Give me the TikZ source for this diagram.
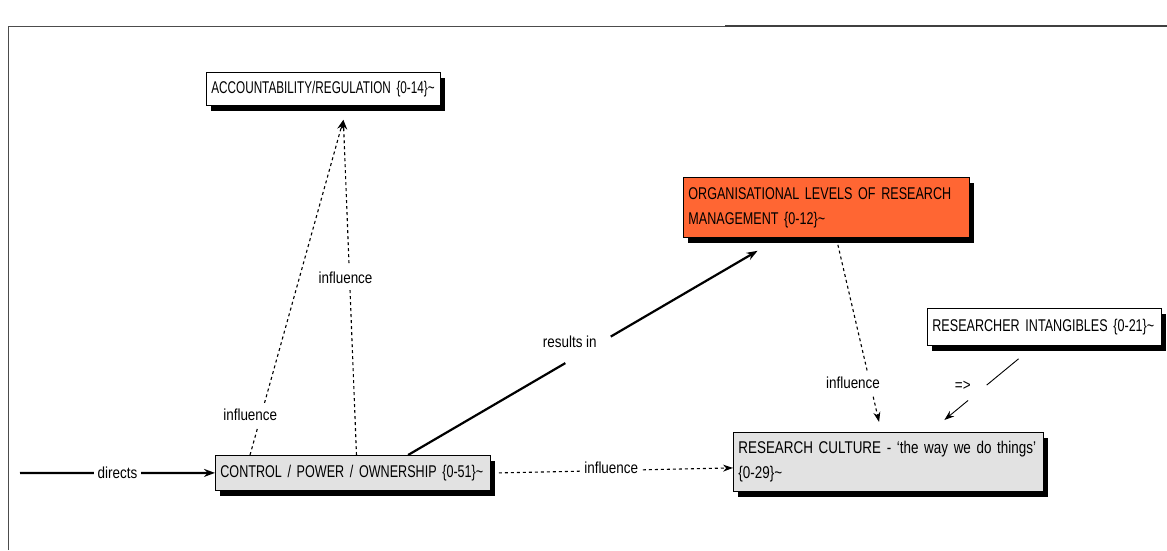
\documentclass[tikz,border=0pt]{standalone}
\usepackage{fontspec}
\setmainfont{Liberation Sans}[FakeStretch=0.79]
\newfontfamily\condfont{Liberation Sans}[FakeStretch=0.74]
\newfontfamily\tightfont{Liberation Sans}[FakeStretch=0.69]
\newfontfamily\labelfont{Liberation Sans}[FakeStretch=0.84]
\usetikzlibrary{arrows.meta,calc,shadows}
\definecolor{orgfill}{HTML}{FF6633}
\definecolor{boxgray}{HTML}{E2E2E2}
\begin{document}
\begin{tikzpicture}[x=1pt,y=-1pt,
  every node/.style={font=\fontsize{17pt}{25pt}\selectfont},
  box/.style={draw=black, line width=0.8pt, align=left, anchor=north west,
    inner xsep=5pt, inner ysep=2pt,
    drop shadow={shadow xshift=5pt, shadow yshift=-6pt, fill=black, opacity=1}},
  lbl/.style={fill=white, inner sep=2pt, font=\fontsize{16pt}{20pt}\labelfont},
  heavy/.style={line width=2.2pt, -{Stealth[length=11pt,width=8pt]}},
  thinline/.style={line width=0.9pt, -{Stealth[length=10pt,width=7pt]}},
  dashline/.style={line width=1.1pt, dash pattern=on 3pt off 3pt,
    -{Stealth[length=10pt,width=7pt]}}]
\useasboundingbox (0,0) rectangle (1167,550);

% page frame
\draw[black!70, line width=1pt] (8,550) -- (8,26) -- (725,26);
\draw[black!75, line width=2pt] (725,26) -- (1167,26);

% concept boxes
\node[box, fill=white, text width=224pt, minimum height=33pt] (acc) at (206,72)
  {\mbox{\tightfont ACCOUNTABILITY/REGULATION \{0-14\}\textasciitilde}};
\node[box, fill=boxgray, text width=265pt, minimum height=35pt] (ctrl) at (215,455)
  {\mbox{\condfont CONTROL / POWER / OWNERSHIP \{0-51\}\textasciitilde}};
\node[box, fill=orgfill, text width=276pt, minimum height=60pt] (org) at (683,177)
  {\mbox{\condfont ORGANISATIONAL LEVELS OF RESEARCH}\\\mbox{\condfont MANAGEMENT \{0-12\}\textasciitilde}};
\node[box, fill=boxgray, text width=300pt, minimum height=59pt] (rc) at (733,432)
  {\mbox{RESEARCH CULTURE - `the way we do things'}\\\{0-29\}\textasciitilde};
\node[box, fill=white, text width=224pt, minimum height=37pt] (ri) at (927,308)
  {\mbox{\condfont RESEARCHER INTANGIBLES \{0-21\}\textasciitilde}};

% connector end points on the boxes
\coordinate (d0) at (20,473);
\coordinate (sA1) at ($(ctrl.north west)!0.127!(ctrl.north east)$);
\coordinate (sA2) at ($(ctrl.north west)!0.513!(ctrl.north east)$);
\coordinate (eA) at ($(acc.south west)!0.585!(acc.south east)+(0,14)$);
\coordinate (sRes) at ($(ctrl.north west)!0.70!(ctrl.north east)$);
\coordinate (eRes) at ($(org.south west)!0.26!(org.south east)+(0,13)$);
\coordinate (sO) at ($(org.south west)!0.54!(org.south east)+(0,7)$);
\coordinate (eO) at ($(rc.north west)!0.47!(rc.north east)+(0,-10)$);
\coordinate (sR) at ($(ri.south west)!0.39!(ri.south east)+(0,13)$);
\coordinate (eR) at ($(rc.north west)!0.68!(rc.north east)+(0,-12)$);
\coordinate (sC) at ([xshift=8pt]ctrl.east);
\coordinate (eC) at ([yshift=-6pt]rc.west);

% directs
\draw[heavy] (d0) -- node[lbl, inner xsep=4pt] (lDir) {directs} (ctrl.west);

% influence on accountability
\draw[dashline] (sA1) -- node[lbl, pos=0.12, xshift=-11pt, inner ysep=6pt] (lAcc1) {influence} (eA);
\draw[dashline] (sA2) -- node[lbl, pos=0.53, xshift=-4pt, inner ysep=6pt] (lAcc2) {influence} (eA);

% results in
\draw[heavy] (sRes) -- ($(sRes)!0.45!(eRes)$) ($(sRes)!0.58!(eRes)$) -- (eRes);
\node[lbl, fill=none] (lRes) at ($(sRes)!0.48!(eRes)+(-6,-15)$) {results in};

% influence on research culture
\draw[dashline] (sO) -- node[lbl, pos=0.78, xshift=-17pt, inner ysep=6pt] (lOrg) {influence} (eO);
\draw[dashline] (sC) -- node[lbl, pos=0.48, yshift=3pt] (lCtrl) {influence} (eC);

% researcher intangibles
\draw[thinline] (sR) -- ($(sR)!0.43!(eR)$) ($(sR)!0.68!(eR)$) -- (eR);
\node[lbl, fill=none] (lRi) at ($(sR)!0.55!(eR)+(-15,-7)$) {=>};
\end{tikzpicture}
\end{document}
